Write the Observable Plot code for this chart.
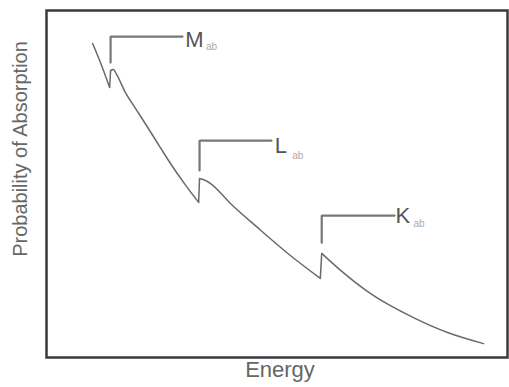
<!DOCTYPE html>
<html>
<head>
<meta charset="utf-8">
<script src="https://cdn.jsdelivr.net/npm/d3@7"></script>
<script src="https://cdn.jsdelivr.net/npm/@observablehq/plot@0.6"></script>
<style>
  html, body { margin: 0; padding: 0; background: #fff; }
  #chart svg { display: block; }
</style>
</head>
<body>
<div id="chart"></div>
<script>
// Absorption curve (arbitrary units); segment = piece between edges
const energy     = [10.0, 11.7, 13.7,   13.9, 14.5, 15.2, 17.1, 19.3, 22.1, 24.7, 26.9, 30.2, 33.0,   33.2, 34.5, 35.6, 39.9, 46.0, 52.9, 59.4,   59.7, 63.8, 70.3, 79.6, 87.0, 94.8];
const absorption = [90.5, 85.0, 77.8,   82.7, 83.0, 81.6, 76.4, 71.8, 66.0, 60.5, 55.9, 49.6, 44.7,   51.6, 51.0, 50.1, 44.4, 37.2, 29.4, 22.8,   30.0, 25.1, 18.4, 11.5,  7.2,  4.0];
const segment    = [0, 0, 0,   1, 1, 1, 1, 1, 1, 1, 1, 1, 1,   2, 2, 2, 2, 2, 2, 2,   3, 3, 3, 3, 3, 3];

// Absorption edges and their callout brackets
const edgeNames    = ["M", "L", "K"];
const edgeSubs     = ["ab", "ab", "ab"];
const edgeEnergy   = [13.9, 33.2, 59.7];
const bracketLow   = [85.0, 53.9, 33.1];
const bracketHigh  = [92.5, 62.5, 40.9];
const bracketEnd   = [29.5, 48.8, 75.5];
const labelX       = [30.1, 49.5, 75.7];
const labelY       = [91.5, 61.0, 40.9];
const subX         = [34.6, 53.3, 79.6];
const subY         = [89.6, 58.2, 38.6];

const xLabel = "Energy";
const yLabel = "Probability of Absorption";

const curve = energy.map((e, i) => ({e, p: absorption[i], seg: segment[i]}));
// vertical jumps: last point of a segment to first point of the next one
const jumps = [];
for (let i = 1; i < curve.length; i++) {
  if (curve[i].seg !== curve[i - 1].seg) {
    jumps.push({x1: curve[i - 1].e, y1: curve[i - 1].p, x2: curve[i].e, y2: curve[i].p});
  }
}
const brackets = edgeNames.flatMap((n, i) => [
  {edge: n, e: edgeEnergy[i], p: bracketLow[i]},
  {edge: n, e: edgeEnergy[i], p: bracketHigh[i]},
  {edge: n, e: bracketEnd[i], p: bracketHigh[i]}
]);
const labels = edgeNames.map((n, i) => ({n, e: labelX[i], p: labelY[i]}));
const subs = edgeSubs.map((s, i) => ({s, e: subX[i], p: subY[i]}));

const font = "Liberation Sans, Arial, sans-serif";

const chart = Plot.plot({
  width: 509,
  height: 387,
  marginLeft: 46,
  marginRight: 2,
  marginTop: 10,
  marginBottom: 30,
  style: {fontFamily: font, background: "#fff"},
  x: {domain: [0, 100], axis: null},
  y: {domain: [0, 100], axis: null},
  marks: [
    Plot.frame({stroke: "#3a3a3a", strokeWidth: 2.5}),
    Plot.line(curve, {x: "e", y: "p", z: "seg", curve: "monotone-x", stroke: "#6a6a6a", strokeWidth: 1.5}),
    Plot.link(jumps, {x1: "x1", y1: "y1", x2: "x2", y2: "y2", stroke: "#6a6a6a", strokeWidth: 1.5}),
    Plot.line(brackets, {x: "e", y: "p", z: "edge", stroke: "#777", strokeWidth: 2.2, strokeLinejoin: "miter"}),
    Plot.text(labels, {x: "e", y: "p", text: "n", textAnchor: "start", fontSize: 22, fill: "#555"}),
    Plot.text(subs, {x: "e", y: "p", text: "s", textAnchor: "start", fontSize: 10, fill: "#aaa"}),
    Plot.text([xLabel], {frameAnchor: "bottom", dx: 3, dy: 19, fontSize: 22, fill: "#666"}),
    Plot.text([yLabel], {frameAnchor: "left", textAnchor: "middle", rotate: -90, dx: -26, dy: -35, fontSize: 20, fill: "#666"})
  ]
});
document.getElementById("chart").appendChild(chart);
</script>
</body>
</html>
